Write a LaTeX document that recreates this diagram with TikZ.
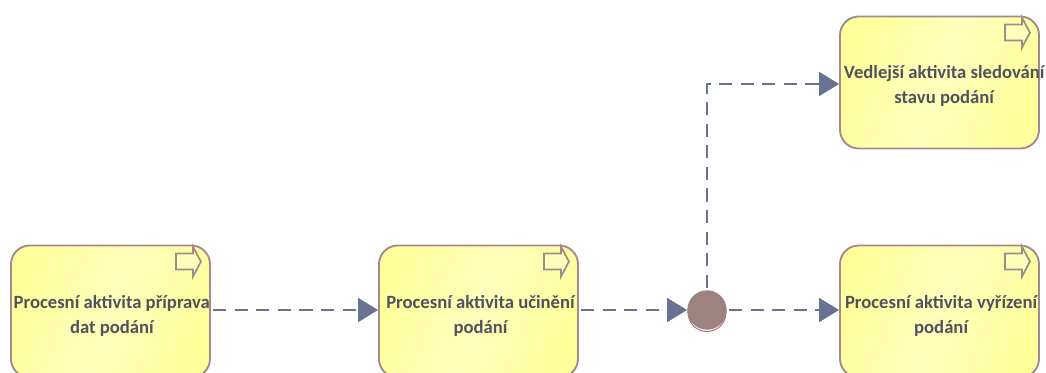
\documentclass[tikz,border=0pt]{standalone}
\usepackage{fontspec}
\setmainfont{Carlito}
\usetikzlibrary{arrows.meta,shadings}

\definecolor{boxedge}{HTML}{A08A8A}
\definecolor{boxyellow}{HTML}{FFFF9C}
\definecolor{boxlight}{HTML}{FFFFBC}
\definecolor{flowblue}{HTML}{687391}
\definecolor{junctionfill}{HTML}{9E8181}
\definecolor{boxtext}{HTML}{50535E}

\tikzstyle{activity} = [draw=boxedge, line width=1.4pt, rounded corners=14pt, minimum width=149.25pt, minimum height=99pt, inner sep=0pt, left color=boxyellow, right color=boxyellow, middle color=boxlight, shading angle=70]
\tikzstyle{activitytext} = [inner sep=0pt, text=boxtext, font=\fontsize{14pt}{18.75pt}\selectfont\bfseries, align=center]
\tikzstyle{flow} = [line width=1.4pt, flowblue, dash pattern=on 10pt off 6.2pt, shorten <=1.5pt, -{Triangle[length=15pt,width=18pt]}]
\tikzstyle{icon} = [draw=boxedge, line width=1.3pt, line join=miter, fill=boxlight]
\tikzstyle{junctiondot} = [circle, fill=junctionfill, minimum size=29.5pt, inner sep=0pt]
\tikzstyle{junctionrim} = [circle, draw=junctionfill, fill=white, line width=0.8pt, minimum size=28.5pt, inner sep=0pt]

\begin{document}
\begin{tikzpicture}[x=0.75pt,y=-0.75pt]
	\useasboundingbox (0,0) rectangle (1046,372);
	\clip (0,0) rectangle (1046,372);

	\node[activity] (priprava) at (110.5,311.5) {};
	\node[activity] (uciteni) at (478.5,311.5) {};
	\node[activity] (vyrizeni) at (939.5,311.5) {};
	\node[activity] (vedlejsi) at (939.5,82.5) {};

	\node[activitytext] (pripravatext) at ([xshift=1pt,yshift=-3pt]priprava.center) {Procesní aktivita příprava\\dat podání};
	\node[activitytext] (ucitenitext) at ([xshift=1.5pt,yshift=-3pt]uciteni.center) {Procesní aktivita učinění\\podání};
	\node[activitytext] (vyrizenitext) at ([xshift=1.2pt,yshift=-3pt]vyrizeni.center) {Procesní aktivita vyřízení\\podání};
	\node[activitytext] (vedlejsitext) at ([xshift=3.5pt,yshift=-2.5pt]vedlejsi.center) {Vedlejší aktivita sledování\\stavu podání};

	\node[junctionrim] (rim) at (707,312.5) {};
	\node[junctiondot] (junction) at (707,310) {};

	% the little arrow in the corner of each box
	\foreach \i in {priprava,uciteni,vyrizeni,vedlejsi} {
		\draw[icon] (\i.north east) ++(-35,9) -- ++(17,0) -- ++(0,-7) -- ++(8,15) -- ++(-8,15) -- ++(0,-7) -- ++(-17,0) -- cycle;
	}

	\draw[flow] (priprava.east |- junction) -- (uciteni.west |- junction);
	\draw[flow] (uciteni.east |- junction) -- (junction.west);
	\draw[flow] (junction.east) -- (vyrizeni.west |- junction);
	\draw[flow] (junction.north) |- ([yshift=-1.1pt]vedlejsi.west);
\end{tikzpicture}
\end{document}
